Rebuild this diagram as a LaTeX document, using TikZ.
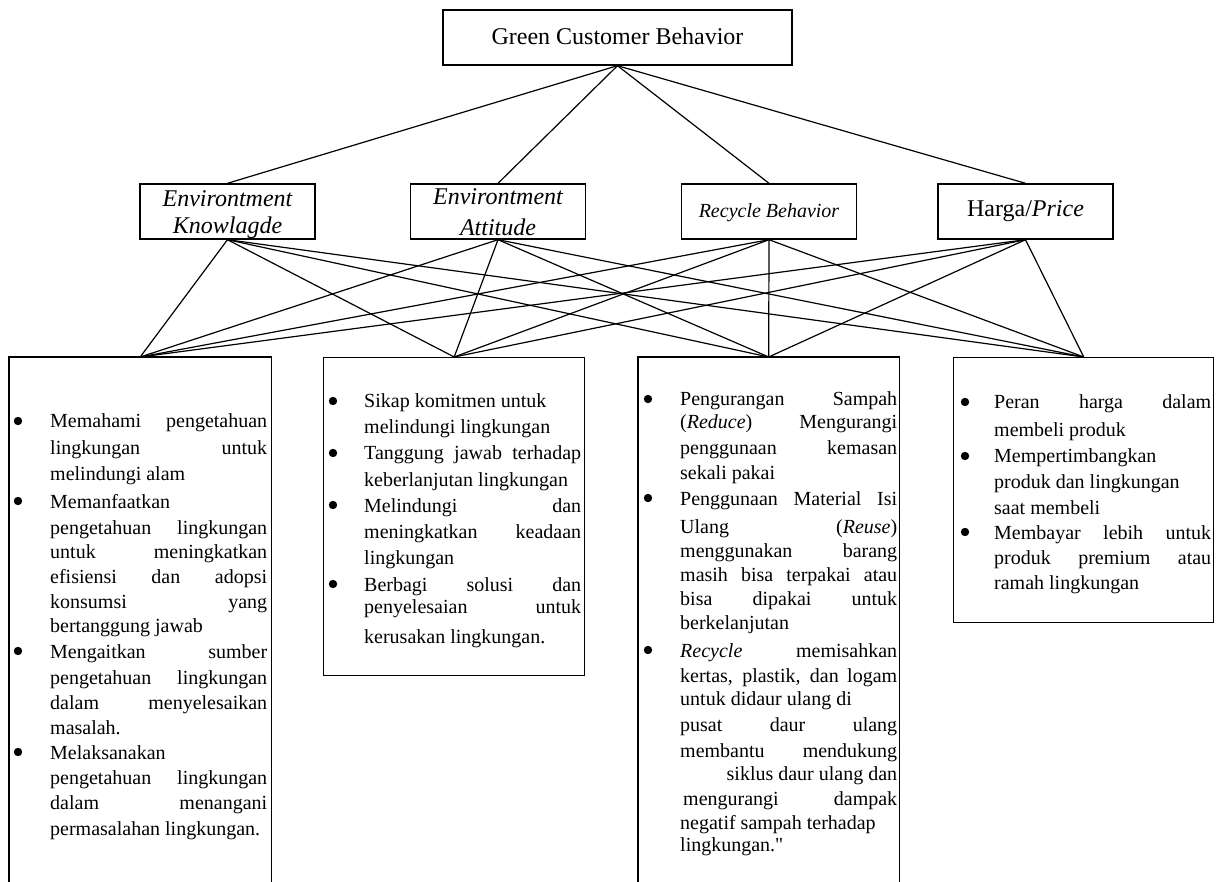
\documentclass[tikz,border=0pt]{standalone}
\usepackage{fontspec}
\setmainfont{Liberation Serif}
\newlength\tw
\setlength\tw{217pt}
\newcommand\J[1]{\hbox to\tw{#1}}
\newcommand\F[1]{\hbox to\tw{#1\hfil}}
\newcommand\sq{{\addfontfeatures{Ligatures=TeXOff}"}}
\tikzset{
  box/.style={draw, line width=1.4pt, inner sep=0pt},
  ln/.style={line width=1.2pt},
  txt/.style={anchor=base west, inner sep=0pt, font=\fontsize{20}{24}\selectfont},
  ctxt/.style={anchor=base, inner sep=0pt},
  midbox/.style={box, minimum width=175pt, minimum height=55pt},
  dot/.style={fill=black},
}
\begin{document}
\begin{tikzpicture}[x=1pt,y=-1pt]
\useasboundingbox (0,0) rectangle (1216,882);
% top
\node[box, minimum width=349pt, minimum height=55pt] (top) at (617.5,37.5) {};
\node[ctxt, font=\fontsize{24}{28}\selectfont] (topt) at (617.5,45) {Green Customer Behavior};
% middle
\node[midbox] (m1) at (227.5,211.5) {};
\node[midbox] (m2) at (498,211.5) {};
\node[midbox] (m3) at (769,211.5) {};
\node[midbox] (m4) at (1025.5,211.5) {};
\node[ctxt, font=\fontsize{24}{28}\selectfont\itshape] (m1a) at (227.5,207) {Environtment};
\node[ctxt, font=\fontsize{24}{28}\selectfont\itshape] (m1b) at (227.5,234) {Knowlagde};
\node[ctxt, font=\fontsize{24}{28}\selectfont\itshape] (m2a) at (498,205) {Environtment};
\node[ctxt, font=\fontsize{24}{28}\selectfont\itshape] (m2b) at (498,236) {Attitude};
\node[ctxt, font=\fontsize{20}{24}\selectfont\itshape] (m3a) at (769,218) {Recycle Behavior};
\node[ctxt, font=\fontsize{24}{28}\selectfont] (m4a) at (1025.5,217) {Harga/\textit{Price}};
% bottom boxes
\node[anchor=north west, inner sep=0pt, minimum width=262pt, minimum height=526pt] (b1) at (9,357) {};
\node[box, anchor=north west, minimum width=261pt, minimum height=318pt] (b2) at (323,357) {};
\node[anchor=north west, inner sep=0pt, minimum width=261pt, minimum height=526pt] (b3) at (638,357) {};
\node[box, anchor=north west, minimum width=260pt, minimum height=265pt] (b4) at (953,357) {};
\draw[line width=1.4pt] (b1.south west) -- (b1.north west) -- (b1.north east) -- (b1.south east);
\draw[line width=1.4pt] (b3.south west) -- (b3.north west) -- (b3.north east) -- (b3.south east);
% connectors
\foreach \m in {1,...,4} {\draw[ln] (top.south) -- (m\m.north);}
\foreach \m in {1,...,4} {\foreach \b in {1,...,4} {\draw[ln] (m\m.south) -- (b\b.north);}}
% bullets
\foreach \x/\y in {18/428, 18/508, 18/658, 18/759,
                   333/408, 333/460, 333/512, 333/591,
                   648/406, 648/505, 648/657,
                   965/409, 965/463, 965/539}
  {\fill[dot] (\x,\y-7) circle (4.2pt);}
% box 1 text
\foreach \yy/\tx [count=\i] in {
 428/{\J{Memahami pengetahuan}},
 455/{\J{lingkungan untuk}},
 481/{\F{melindungi alam}},
 508/{\F{Memanfaatkan}},
 534/{\J{pengetahuan lingkungan}},
 558/{\J{untuk meningkatkan}},
 583/{\J{efisiensi dan adopsi}},
 608/{\J{konsumsi yang}},
 632/{\F{bertanggung jawab}},
 658/{\J{Mengaitkan sumber}},
 684/{\J{pengetahuan lingkungan}},
 709/{\J{dalam menyelesaikan}},
 734/{\F{masalah.}},
 759/{\F{Melaksanakan}},
 784/{\J{pengetahuan lingkungan}},
 809/{\J{dalam menangani}},
 835/{\F{permasalahan lingkungan.}}}
 {\node[txt] (ta\i) at (50,\yy) {\tx};}
% box 2 text
\foreach \yy/\tx [count=\i] in {
 408/{\F{Sikap komitmen untuk}},
 434/{\F{melindungi lingkungan}},
 460/{\J{Tanggung jawab terhadap}},
 486/{\F{keberlanjutan lingkungan}},
 512/{\J{Melindungi dan}},
 538/{\J{meningkatkan keadaan}},
 564/{\F{lingkungan}},
 591/{\J{Berbagi solusi dan}},
 613/{\J{penyelesaian untuk}},
 643/{\F{kerusakan lingkungan.}}}
 {\node[txt] (tb\i) at (364,\yy) {\tx};}
% box 3 text
\foreach \yy/\tx [count=\i] in {
 406/{\J{Pengurangan Sampah}},
 429/{\J{(\textit{Reduce}) Mengurangi}},
 455/{\J{penggunaan kemasan}},
 479/{\F{sekali pakai}},
 505/{\J{Penggunaan Material Isi}},
 533/{\J{Ulang (\textit{Reuse})}},
 557/{\J{menggunakan barang}},
 581/{\J{masih bisa terpakai atau}},
 605/{\J{bisa dipakai untuk}},
 629/{\F{berkelanjutan}},
 657/{\J{\textit{Recycle} memisahkan}},
 682/{\J{kertas, plastik, dan logam}},
 705/{\F{untuk didaur ulang di}},
 731/{\J{pusat daur ulang}},
 757/{\J{membantu mendukung}},
 780/{\hbox to\tw{\hfil siklus daur ulang dan}},
 805/{\J{\kern3pt mengurangi dampak}},
 829/{\F{negatif sampah terhadap}},
 851/{\F{lingkungan.\sq}}}
 {\node[txt] (tc\i) at (680,\yy) {\tx};}
% box 4 text
\foreach \yy/\tx [count=\i] in {
 409/{\J{Peran harga dalam}},
 437/{\F{membeli produk}},
 463/{\F{Mempertimbangkan}},
 489/{\F{produk dan lingkungan}},
 514/{\F{saat membeli}},
 539/{\J{Membayar lebih untuk}},
 564/{\J{produk premium atau}},
 589/{\F{ramah lingkungan}}}
 {\node[txt] (td\i) at (994,\yy) {\tx};}
\end{tikzpicture}
\end{document}
